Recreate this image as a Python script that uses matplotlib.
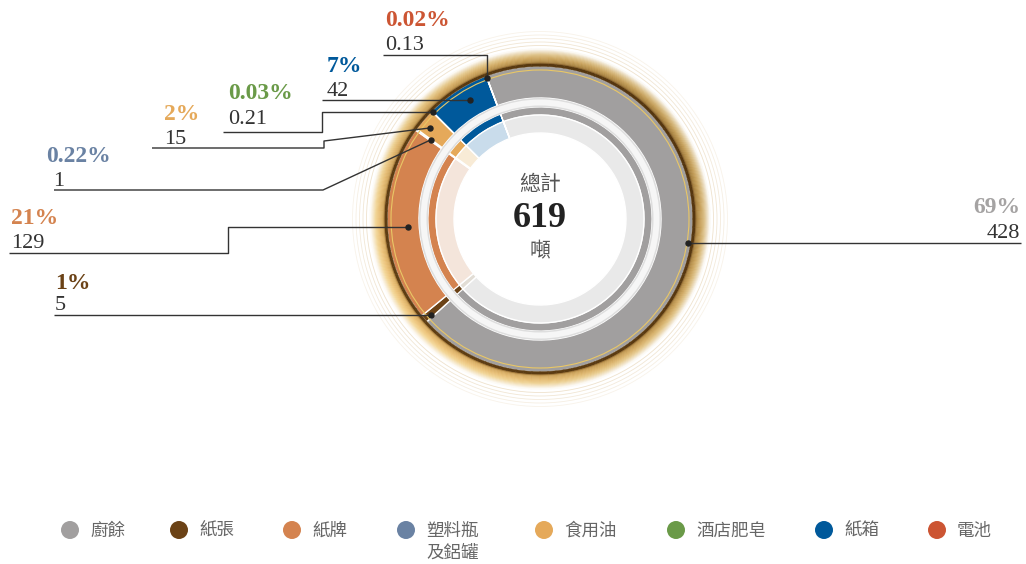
import numpy as np
import matplotlib
matplotlib.use("Agg")
import matplotlib.pyplot as plt
from matplotlib.patches import Wedge, Circle
from matplotlib.collections import PatchCollection
from matplotlib.colors import to_rgb

# ---------------- data ----------------
categories = ['廚餘', '紙張', '紙牌', '塑料瓶\n及鋁罐', '食用油', '酒店肥皂', '紙箱', '電池']
values = [428, 5, 129, 1, 15, 0.21, 42, 0.13]
pct_labels = ['69%', '1%', '21%', '0.22%', '2%', '0.03%', '7%', '0.02%']
value_labels = ['428', '5', '129', '1', '15', '0.21', '42', '0.13']
total_label = '619'
center_top = '總計'
center_unit = '噸'

colors = ['#a19f9f', '#6b4216', '#d4834f', '#6a82a3', '#e5a95a', '#6a9a48', '#00599b', '#cc5533']
pale_colors = ['#e9e9e9', '#e2ddd5', '#f4e5db', '#dfe5ee', '#f8ebd6', '#e3ecd9', '#c9dceb', '#f5ddd5']
pct_colors = ['#a5a3a3', '#6b4216', '#d4834f', '#6a82a3', '#e5a95a', '#6a9a48', '#00599b', '#cc5533']

# ---------------- layout ----------------
W, H = 1026, 564
def Y(py):
    return H - py

cx, cy = 540, Y(219)
START = 110.6

SERIF = ['Liberation Serif', 'DejaVu Serif']
CJK = ['Noto Sans CJK TC', 'DejaVu Sans']

fig = plt.figure(figsize=(W / 100, H / 100), dpi=100)
ax = fig.add_axes([0, 0, 1, 1])

# outer ring
ax.pie(values, colors=colors, radius=153, center=(cx, cy), startangle=START,
       counterclock=False, wedgeprops=dict(width=32, edgecolor='white', linewidth=1.0))
# gap ring
ax.add_patch(Wedge((cx, cy), 121, 0, 360, width=9, facecolor='#dedede', edgecolor='none', zorder=3))
ax.add_patch(Wedge((cx, cy), 119.5, 0, 360, width=6, facecolor='#f6f6f6', edgecolor='none', zorder=3))
# thin inner ring
ax.pie(values, colors=colors, radius=112, center=(cx, cy), startangle=START,
       counterclock=False, wedgeprops=dict(width=8, edgecolor='white', linewidth=0.8))
# pale ring
ax.pie(values, colors=pale_colors, radius=104, center=(cx, cy), startangle=START,
       counterclock=False, wedgeprops=dict(width=18, edgecolor='white', linewidth=1.0))

# thin gold line inside outer ring
ax.add_patch(Circle((cx, cy), 149, fill=False, edgecolor='#e9c766', lw=0.8, zorder=4))

# gold band (decorative gradient) built from small annular sectors
stops_r = [152.6, 155.6, 156.0, 157.5, 161.0, 164.5, 167.5, 170.5]
dark = ['#55360f', '#55360f', '#8a6530', '#a8823f', '#c49e58', '#d9bd85', '#eadbbd', '#ffffff']
light = ['#5e3d12', '#5e3d12', '#b08440', '#dcb064', '#eec47a', '#f4d898', '#f8ebcf', '#ffffff']
r_edges = np.concatenate([[152.6, 155.6], np.arange(156.0, 170.51, 0.9)])
t_edges = np.linspace(0, 360, 121)
patches, fcs = [], []
for j in range(len(r_edges) - 1):
    r0, r1 = r_edges[j], r_edges[j + 1]
    rm = 0.5 * (r0 + r1)
    for k in range(len(t_edges) - 1):
        t0, t1 = t_edges[k], t_edges[k + 1]
        tm = np.deg2rad(0.5 * (t0 + t1))
        fb = 0.5 + 0.5 * np.cos(tm - np.deg2rad(215))
        col = []
        for c in range(3):
            d = np.interp(rm, stops_r, [to_rgb(v)[c] for v in dark])
            l = np.interp(rm, stops_r, [to_rgb(v)[c] for v in light])
            col.append(d * (1 - fb) + l * fb)
        patches.append(Wedge((cx, cy), r1, t0, t1, width=r1 - r0))
        fcs.append(tuple(col))
pc = PatchCollection(patches, facecolors=fcs, edgecolors=fcs, linewidths=0.35, zorder=5)
ax.add_collection(pc)

for rad, a in zip([173.5, 177, 180.5, 184, 187.5], [0.7, 0.6, 0.5, 0.4, 0.3]):
    ax.add_patch(Circle((cx, cy), rad, fill=False, edgecolor='#e8d6b8', lw=0.6, alpha=a, zorder=4))

# center text
ax.text(cx, Y(184), center_top, ha='center', va='center', fontsize=15, color='#555555', family=CJK)
ax.text(cx, Y(227), total_label, ha='center', va='baseline', fontsize=26, fontweight='bold',
        color='#222222', family=SERIF)
ax.text(cx, Y(251), center_unit, ha='center', va='center', fontsize=15, color='#555555', family=CJK)

# ---------------- labels & leader lines ----------------
vals = np.array(values, dtype=float)
spans = vals / vals.sum() * 360.0
starts = START - np.concatenate([[0], np.cumsum(spans)[:-1]])

def anchor(i, frac, rad):
    ang = np.deg2rad(starts[i] - frac * spans[i])
    return cx + rad * np.cos(ang), cy + rad * np.sin(ang)

anchor_frac = [0.482, 0.3, 0.48, 0.5, 0.4, 0.5, 0.6, 0.5]
anchor_rad = [150, 145, 132, 135, 142.8, 151, 138, 151]
anchors = [anchor(i, anchor_frac[i], anchor_rad[i]) for i in range(len(values))]

# text positions: (x, pct baseline, value baseline, ha)
text_pos = [
    (1020, 213, 238, 'right'),
    (55, 289, 310, 'left'),
    (11, 224, 248, 'left'),
    (46, 162, 186, 'left'),
    (164, 120, 144, 'left'),
    (228, 99, 124, 'left'),
    (327, 72, 96, 'left'),
    (385, 26, 50, 'left'),
]
val_x_offset = [0, 0, 0, 7, 0, 0, 0, 0]

def leader(i):
    ax_, ay_ = anchors[i]
    if i == 0:
        return [(1021, ay_), (ax_, ay_)]
    if i == 1:
        return [(54, ay_), (ax_, ay_)]
    if i == 2:
        return [(9, Y(253)), (228, Y(253)), (228, ay_), (ax_, ay_)]
    if i == 3:
        return [(54, Y(190)), (323, Y(190)), (ax_, ay_)]
    if i == 4:
        return [(152, Y(148)), (324, Y(148)), (324, Y(141)), (ax_, ay_)]
    if i == 5:
        return [(223, Y(132)), (322, Y(132)), (322, ay_), (ax_, ay_)]
    if i == 6:
        return [(322, ay_), (ax_, ay_)]
    return [(383, Y(54.5)), (ax_, Y(54.5)), (ax_, ay_)]

for i in range(len(values)):
    pts = leader(i)
    ax.plot([p[0] for p in pts], [p[1] for p in pts], color='#333333', lw=1.0, zorder=8,
            solid_capstyle='butt')
    ax.plot([anchors[i][0]], [anchors[i][1]], 'o', color='#222222', markersize=3.6, zorder=9)
    x, yp, yv, ha = text_pos[i]
    ax.text(x, Y(yp), pct_labels[i], ha=ha, va='baseline', fontsize=17, fontweight='bold',
            color=pct_colors[i], family=SERIF)
    ax.text(x + val_x_offset[i], Y(yv), value_labels[i], ha=ha, va='baseline', fontsize=16,
            color='#333333', family=SERIF)

# ---------------- legend ----------------
legend_x = [70, 179, 292, 406, 544, 676, 824, 937]
for i, lab in enumerate(categories):
    ax.add_patch(Circle((legend_x[i], Y(530)), 9, facecolor=colors[i], edgecolor='none'))
    for k, line in enumerate(lab.split('\n')):
        ax.text(legend_x[i] + 20, Y(531 + 22 * k), line, ha='left', va='center', fontsize=12.6,
                color='#666666', family=CJK, fontweight='light')

ax.set_xlim(0, W)
ax.set_ylim(0, H)
ax.set_aspect('equal')
ax.axis('off')
fig.savefig('out.png', dpi=100, facecolor='white')
